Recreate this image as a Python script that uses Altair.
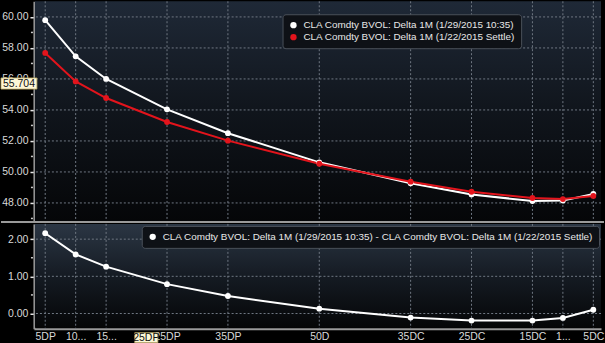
import altair as alt
import pandas as pd

# ---------------- data ----------------
categories = ["5DP", "10DP", "15DP", "25DP", "35DP", "50D", "35DC", "25DC", "15DC", "10DC", "5DC"]
delta_pos = [5, 10, 15, 25, 35, 50, 65, 75, 85, 90, 95]
tick_labels = ["5DP", "10...", "15...", "25DP", "35DP", "50D", "35DC", "25DC", "15DC", "1...", "5DC"]
vol_now = [59.79, 57.46, 56.00, 54.04, 52.50, 50.62, 49.27, 48.55, 48.12, 48.15, 48.58]
vol_settle = [57.68, 55.84, 54.77, 53.22, 52.02, 50.53, 49.37, 48.72, 48.32, 48.25, 48.45]
vol_diff = [2.16, 1.59, 1.26, 0.79, 0.47, 0.13, -0.11, -0.19, -0.19, -0.12, 0.10]
name_now = "CLA Comdty BVOL: Delta 1M (1/29/2015 10:35)"
name_settle = "CLA Comdty BVOL: Delta 1M (1/22/2015 Settle)"
name_diff = name_now + " - " + name_settle
top_y_ticks = [48, 50, 52, 54, 56, 58, 60]
top_y_minor = [47, 49, 51, 53, 55, 57, 59]
bottom_y_ticks = [0, 1, 2]
bottom_y_minor = [0.5, 1.5]
cursor_value = 55.704
cursor_text = "55.704"
cursor_x_label = "25DP"
cursor_x = 21.6

# ---------------- style ----------------
W, H1, H2 = 568, 220, 105
FONT = "Liberation Sans"
LEG_FS = 9.9
LABEL_COLOR = "#d9d9d9"
GRID_COLOR = "#6f7783"
AXIS_GRAY = "#9a9a9a"
WHITE = "#ffffff"
RED = "#e3141c"

x_scale = alt.Scale(domain=[3.15, 96.26], nice=False, zero=False)
y1_scale = alt.Scale(domain=[46.84, 61.01], nice=False, zero=False)
y2_scale = alt.Scale(domain=[-0.41, 2.41], nice=False, zero=False)

label_expr = ("[" + ",".join("'%s'" % t for t in tick_labels) + "][indexof(["
              + ",".join(str(p) for p in delta_pos) + "], datum.value)]")

def y_axis(values):
    return alt.Axis(values=values, format=".2f", title=None, grid=False,
                    tickSize=4, tickColor="#e6e6e6", tickWidth=1.5,
                    labelPadding=2, labelFont=FONT, labelFontSize=10.5,
                    labelColor=LABEL_COLOR, domainColor=AXIS_GRAY, domainWidth=2,
                    minExtent=33, maxExtent=33)

Y1_AXIS = y_axis(top_y_ticks)
Y2_AXIS = y_axis(bottom_y_ticks)
X1_AXIS = alt.Axis(values=delta_pos, labels=False, ticks=False, domain=False,
                   grid=False, title=None, minExtent=0, maxExtent=0)
X2_AXIS = alt.Axis(values=delta_pos, labelExpr=label_expr, ticks=False, grid=False,
                   title=None, labelPadding=3, labelFont=FONT, labelFontSize=10.5,
                   labelColor=LABEL_COLOR, labelOverlap=False, labelFlush=False,
                   domainColor=AXIS_GRAY, domainWidth=2, minExtent=15, maxExtent=15)

top_df = pd.DataFrame({
    "pos": delta_pos * 2,
    "vol": vol_now + vol_settle,
    "series": [name_now] * len(delta_pos) + [name_settle] * len(delta_pos),
})
diff_df = pd.DataFrame({"pos": delta_pos, "vol": vol_diff, "series": [name_diff] * len(delta_pos)})
xgrid_df = pd.DataFrame({"pos": delta_pos})
ygrid1_df = pd.DataFrame({"v": top_y_ticks})
ygrid2_df = pd.DataFrame({"v": bottom_y_ticks})
minor1_df = pd.DataFrame({"v": top_y_minor})
minor2_df = pd.DataFrame({"v": bottom_y_minor})
one = pd.DataFrame({"a": [0]})

def grad(c0, c1, c2):
    return alt.LinearGradient(gradient="linear", x1=0, x2=0, y1=0, y2=1,
                              stops=[alt.GradientStop(color=c0, offset=0),
                                     alt.GradientStop(color=c1, offset=0.5),
                                     alt.GradientStop(color=c2, offset=1)])

def legend(x, y):
    return alt.Legend(orient="none", legendX=x, legendY=y, title=None,
                      fillColor="#0e1116", strokeColor="#4a5059", padding=6,
                      cornerRadius=3, labelColor="#e8e8e8", labelFont=FONT,
                      labelFontSize=LEG_FS, labelLimit=600, symbolType="circle",
                      symbolSize=40, symbolStrokeWidth=0, rowPadding=1, labelOffset=5)

# ---------------- top panel ----------------
bg1 = alt.Chart(one).mark_rect(color=grad("#1f2937", "#10151c", "#050608")).encode(
    x=alt.value(1), x2=alt.value(W), y=alt.value(0), y2=alt.value(H1))
hgrid1 = alt.Chart(ygrid1_df).mark_rule(color=GRID_COLOR, strokeDash=[2, 2], strokeWidth=1).encode(
    y=alt.Y("v:Q", scale=y1_scale, axis=Y1_AXIS))
minor1 = alt.Chart(minor1_df).mark_rule(color="#c8c8c8", strokeWidth=1.5).encode(
    x=alt.value(-3), x2=alt.value(-1), y=alt.Y("v:Q", scale=y1_scale, axis=Y1_AXIS))
vgrid1 = alt.Chart(xgrid_df).mark_rule(color=GRID_COLOR, strokeDash=[2, 2], strokeWidth=1).encode(
    x=alt.X("pos:Q", scale=x_scale, axis=X1_AXIS))
series_scale = alt.Scale(domain=[name_now, name_settle], range=[WHITE, RED])
lines1 = alt.Chart(top_df).mark_line(strokeWidth=2).encode(
    x=alt.X("pos:Q", scale=x_scale, axis=X1_AXIS),
    y=alt.Y("vol:Q", scale=y1_scale, axis=Y1_AXIS),
    stroke=alt.Stroke("series:N", scale=series_scale, legend=None),
    order=alt.Order("pos:Q"))
points1 = alt.Chart(top_df).mark_circle(size=34, opacity=1).encode(
    x=alt.X("pos:Q", scale=x_scale, axis=X1_AXIS),
    y=alt.Y("vol:Q", scale=y1_scale, axis=Y1_AXIS),
    color=alt.Color("series:N", scale=series_scale, legend=legend(249, 13)))
sep = alt.Chart(one).mark_rule(color=AXIS_GRAY, strokeWidth=2).encode(
    x=alt.value(-33), x2=alt.value(W + 3), y=alt.value(H1 + 1))
cur_df = pd.DataFrame({"v": [cursor_value], "lo": [cursor_value - 0.36],
                       "hi": [cursor_value + 0.36], "t": [cursor_text]})
cur_box = alt.Chart(cur_df).mark_rect(fill="#fdf7d6", stroke="#b8a660", strokeWidth=0.8).encode(
    x=alt.value(-33), x2=alt.value(3),
    y=alt.Y("hi:Q", scale=y1_scale, axis=Y1_AXIS), y2="lo:Q")
cur_txt = alt.Chart(cur_df).mark_text(align="left", baseline="middle", font=FONT,
                                      fontSize=10.5, color="#111111").encode(
    x=alt.value(-31), y=alt.Y("v:Q", scale=y1_scale, axis=Y1_AXIS), text="t:N")

top = alt.layer(bg1, hgrid1, minor1, vgrid1, lines1, points1, sep, cur_box, cur_txt).properties(
    width=W, height=H1).resolve_scale(color="independent", stroke="independent")

# ---------------- bottom panel ----------------
bg2 = alt.Chart(one).mark_rect(color=grad("#2b3644", "#151b23", "#050607")).encode(
    x=alt.value(1), x2=alt.value(W), y=alt.value(0), y2=alt.value(H2 - 1))
hgrid2 = alt.Chart(ygrid2_df).mark_rule(color=GRID_COLOR, strokeDash=[2, 2], strokeWidth=1).encode(
    y=alt.Y("v:Q", scale=y2_scale, axis=Y2_AXIS))
minor2 = alt.Chart(minor2_df).mark_rule(color="#c8c8c8", strokeWidth=1.5).encode(
    x=alt.value(-3), x2=alt.value(-1), y=alt.Y("v:Q", scale=y2_scale, axis=Y2_AXIS))
vgrid2 = alt.Chart(xgrid_df).mark_rule(color=GRID_COLOR, strokeDash=[2, 2], strokeWidth=1).encode(
    x=alt.X("pos:Q", scale=x_scale, axis=X2_AXIS))
diff_scale = alt.Scale(domain=[name_diff], range=[WHITE])
line2 = alt.Chart(diff_df).mark_line(strokeWidth=2).encode(
    x=alt.X("pos:Q", scale=x_scale, axis=X2_AXIS),
    y=alt.Y("vol:Q", scale=y2_scale, axis=Y2_AXIS),
    stroke=alt.Stroke("series:N", scale=diff_scale, legend=None),
    order=alt.Order("pos:Q"))
points2 = alt.Chart(diff_df).mark_circle(size=34, opacity=1).encode(
    x=alt.X("pos:Q", scale=x_scale, axis=X2_AXIS),
    y=alt.Y("vol:Q", scale=y2_scale, axis=Y2_AXIS),
    color=alt.Color("series:N", scale=diff_scale, legend=legend(108, 2)))
curx_df = pd.DataFrame({"x": [cursor_x], "lo": [cursor_x - 1.9], "hi": [cursor_x + 1.9],
                        "t": [cursor_x_label]})
curx_box = alt.Chart(curx_df).mark_rect(fill="#fdf7d6", stroke="#b8a660", strokeWidth=0.8).encode(
    x=alt.X("lo:Q", scale=x_scale, axis=X2_AXIS), x2="hi:Q",
    y=alt.value(H2 + 4), y2=alt.value(H2 + 14))
curx_txt = alt.Chart(curx_df).mark_text(align="center", baseline="middle", font=FONT,
                                        fontSize=10.5, color="#111111").encode(
    x=alt.X("x:Q", scale=x_scale, axis=X2_AXIS), y=alt.value(H2 + 9), text="t:N")

bottom = alt.layer(bg2, hgrid2, minor2, vgrid2, line2, points2, curx_box, curx_txt).properties(
    width=W, height=H2).resolve_scale(color="independent", stroke="independent")

chart = alt.vconcat(top, bottom, spacing=0).resolve_scale(
    color="independent", stroke="independent", y="independent").resolve_legend(
    color="independent", stroke="independent").configure(
    background="#000000", padding=0).configure_view(strokeWidth=0)

chart.save("out.html", embed_options={"renderer": "svg", "actions": False})
